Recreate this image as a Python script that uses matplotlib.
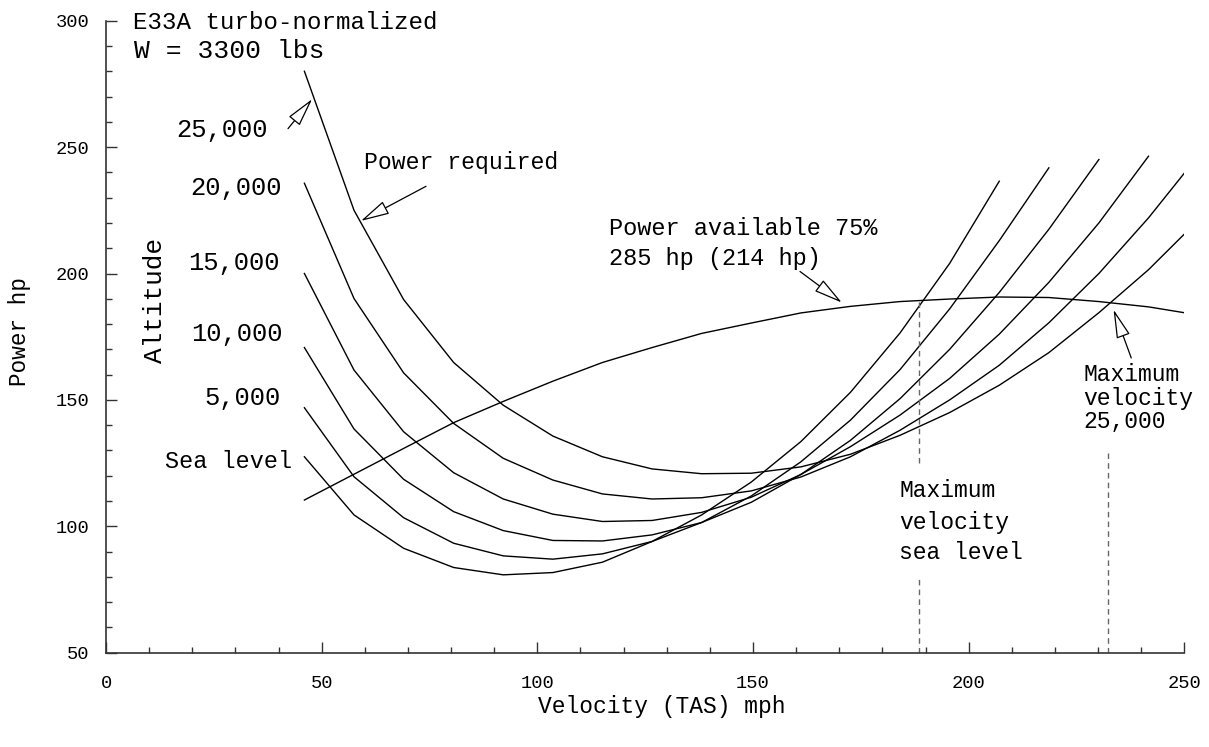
import matplotlib
matplotlib.use("Agg")
import matplotlib.pyplot as plt
from matplotlib.ticker import MultipleLocator

plt.rcParams['font.family'] = ['Liberation Mono', 'DejaVu Sans Mono']

# true airspeed at every 10 kt step (40 kt .. 220 kt), in mph
speed_mph = [46.0, 57.5, 69.0, 80.6, 92.1, 103.6, 115.1, 126.6, 138.1, 149.6,
             161.1, 172.6, 184.1, 195.6, 207.1, 218.6, 230.2, 241.7, 253.2]

# power required (hp) per altitude
pr_sea_level = [127.5, 104.5, 91.3, 83.7, 80.8, 81.7, 85.8, 94.0, 104.5, 117.5,
                133.5, 153.0, 176.5, 204.0, 236.5]
pr_5000 = [146.9, 119.6, 103.4, 93.3, 88.3, 87.0, 89.1, 94.0, 101.5, 112.0,
           125.5, 142.0, 162.0, 186.0, 213.0, 241.8]
pr_10000 = [170.7, 138.5, 118.6, 105.8, 98.3, 94.4, 94.2, 96.6, 101.5, 109.5,
            120.5, 134.0, 150.5, 170.0, 192.5, 217.5, 245.1]
pr_15000 = [200.0, 161.8, 137.4, 121.2, 110.8, 104.8, 101.9, 102.3, 105.5, 111.5,
            120.5, 131.5, 144.0, 158.5, 176.0, 196.5, 220.0, 246.4]
pr_20000 = [235.7, 190.1, 160.7, 140.7, 126.9, 118.3, 112.8, 110.8, 111.3, 114.0,
            119.5, 127.5, 138.0, 150.0, 163.7, 180.5, 200.0, 222.0, 246.5]
pr_25000 = [280.0, 225.0, 189.7, 164.8, 147.9, 135.7, 127.5, 122.7, 120.8, 121.0,
            123.5, 128.5, 136.0, 145.0, 155.8, 168.7, 184.5, 201.5, 221.0]

# power available, 75% of 285 hp
power_avail = [110.4, 120.6, 130.8, 141.0, 149.4, 157.4, 164.8, 170.7, 176.3, 180.4,
               184.4, 187.0, 188.9, 189.9, 190.7, 190.5, 188.9, 186.8, 183.6]

alt_labels = ['Sea level', '5,000', '10,000', '15,000', '20,000', '25,000']

# maximum level-flight speeds (mph)
vmax_sea_level = 188.5
vmax_25000 = 232.4

curves = [pr_sea_level, pr_5000, pr_10000, pr_15000, pr_20000, pr_25000]

fig = plt.figure(figsize=(12.09, 7.47), dpi=100)
ax = fig.add_axes([106 / 1209, 1 - 652.7 / 747, (1184.3 - 106) / 1209, (652.7 - 20.7) / 747])

for vals in curves:
    ax.plot(speed_mph[:len(vals)], vals, color='black', lw=1.0)
ax.plot(speed_mph, power_avail, color='black', lw=1.0)

# dashed guides at max velocity
dash = dict(color='0.4', lw=1.0, linestyle=(0, (4, 3)))
ax.plot([vmax_sea_level, vmax_sea_level], [125.0, 189.3], **dash)
ax.plot([vmax_sea_level, vmax_sea_level], [50, 80.5], **dash)
ax.plot([vmax_25000, vmax_25000], [50, 129.4], **dash)

ax.set_xlim(0, 250)
ax.set_ylim(50, 300)
ax.xaxis.set_major_locator(MultipleLocator(50))
ax.xaxis.set_minor_locator(MultipleLocator(10))
ax.yaxis.set_major_locator(MultipleLocator(50))
ax.yaxis.set_minor_locator(MultipleLocator(10))
for s in ['top', 'right']:
    ax.spines[s].set_visible(False)
for s in ['left', 'bottom']:
    ax.spines[s].set_color('0.2')
    ax.spines[s].set_linewidth(1.2)
ax.tick_params(which='both', direction='in', color='0.2', width=1.0, labelsize=13.5,
               top=False, right=False)
ax.tick_params(which='major', length=8)
ax.tick_params(which='minor', length=4.3)
ax.tick_params(axis='x', pad=16)
ax.tick_params(axis='y', pad=12)

fig.text(662 / 1209, 1 - 706 / 747, 'Velocity (TAS) mph', ha='center', va='center', fontsize=16.5)
fig.text(20 / 1209, 1 - 332 / 747, 'Power hp', ha='center', va='center', rotation=90, fontsize=16.3)

ax.text(6.3, 299.3, 'E33A turbo-normalized', ha='left', va='center', fontsize=17.4)
ax.text(6.5, 287.9, 'W = 3300 lbs', ha='left', va='center', fontsize=19)

# altitude labels at the left ends of the curves
label_pos = [(43.2, 125.6), (40.5, 150.6), (41.0, 176.1), (40.3, 204.0), (40.7, 233.8), (37.6, 256.8)]
for lab, (lx, ly) in zip(alt_labels, label_pos):
    ax.text(lx, ly, lab, ha='right', va='center', fontsize=16.9 if lab == 'Sea level' else 18.4)
ax.text(11.4, 189.3, 'Altitude', ha='center', va='center', rotation=90, fontsize=18.8)

arrow = dict(arrowstyle='-|>,head_length=0.9,head_width=0.22', fc='white', ec='black',
             lw=0.9, shrinkA=0, shrinkB=0, mutation_scale=20)
ax.annotate('', xy=(47.8, 269.0), xytext=(42.2, 257.3), arrowprops=arrow)
ax.text(59.8, 243.8, 'Power required', ha='left', va='center', fontsize=16.7)
ax.annotate('', xy=(59.1, 220.8), xytext=(74.2, 234.5), arrowprops=arrow)

ax.text(116.6, 217.9, 'Power available 75%', ha='left', va='center', fontsize=17)
ax.text(116.6, 206.1, '285 hp (214 hp)', ha='left', va='center', fontsize=17)
ax.annotate('', xy=(170.6, 188.5), xytext=(160.9, 200.8), arrowprops=arrow)

for txt, yy in zip(['Maximum', 'velocity', '25,000'], [160.0, 150.5, 141.4]):
    ax.text(226.6, yy, txt, ha='left', va='center', fontsize=16.6)
ax.annotate('', xy=(233.6, 185.7), xytext=(237.7, 166.6), arrowprops=arrow)

for txt, yy in zip(['Maximum', 'velocity', 'sea level'], [114.0, 101.4, 89.5]):
    ax.text(183.9, yy, txt, ha='left', va='center', fontsize=16.6)

fig.savefig('out.png', dpi=100)
